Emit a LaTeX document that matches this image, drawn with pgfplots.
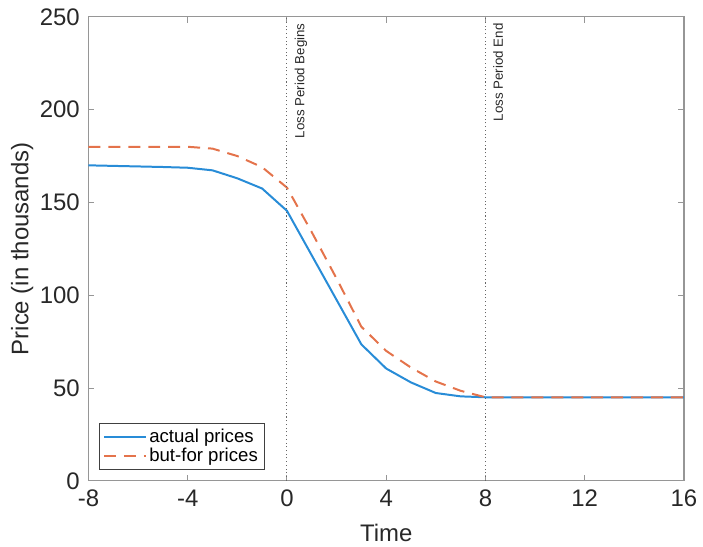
\documentclass[border={5pt 0pt 1pt 3pt}]{standalone}
\usepackage{pgfplots}
\pgfplotsset{compat=1.18}
\usepackage{fontspec}
\setmainfont{Liberation Sans}
\definecolor{mblue}{RGB}{40,140,215}
\definecolor{morange}{RGB}{228,115,75}
\definecolor{axgray}{RGB}{150,150,150}
\definecolor{txtgray}{RGB}{40,40,40}

\begin{document}
\begin{tikzpicture}
\begin{axis}[
    width=448pt, height=349pt, scale only axis,
    xmin=-8, xmax=16, ymin=0, ymax=250,
    xtick={-8,-4,0,4,8,12,16},
    ytick={0,50,100,150,200,250},
    tick align=inside,
    major tick length=4.5pt,
    axis line style={axgray, line width=0.9pt},
    every tick/.style={axgray, line width=0.7pt},
    tick label style={font=\fontsize{18}{20}\selectfont, text=txtgray},
    xticklabel style={yshift=-3.5pt},
    yticklabel style={xshift=-3pt},
    /pgf/number format/assume math mode=true,
    xlabel={Time}, ylabel={Price (in thousands)},
    label style={font=\fontsize{18}{20}\selectfont, text=txtgray},
    xlabel style={yshift=-6pt},
    ylabel style={yshift=-2pt},
    legend cell align=left,
    legend style={font=\fontsize{14}{16}\selectfont, draw=black!75, line width=0.7pt,
      inner xsep=3pt, inner ysep=2pt,
      at={(0.017,0.024)}, anchor=south west, row sep=-1pt},
    legend image code/.code={\draw[#1] (0cm,0cm) -- (1.1cm,0cm);},
]
\addplot[mblue, line width=1.5pt] coordinates {
    (-8,170) (-7,169.7) (-6,169.4) (-5,169.1) (-4,168.7) (-3,167.3) (-2,163) (-1,157.5)
    (0,145.5) (1,121.5) (2,97.5) (3,73.5) (4,60.5) (5,53) (6,47.3) (7,45.5)
    (8,45) (9,45) (10,45) (11,45) (12,45) (13,45) (14,45) (15,45) (16,45)
};
\addlegendentry{actual prices}
\addplot[morange, line width=1.5pt, dash pattern=on 9pt off 6pt] coordinates {
    (-8,180) (-7,180) (-6,180) (-5,180) (-4,180) (-3,179) (-2,175) (-1,169)
    (0,158) (1,134) (2,109) (3,83) (4,70) (5,61) (6,53.5) (7,48.5)
    (8,45) (9,45) (10,45) (11,45) (12,45) (13,45) (14,45) (15,45) (16,45)
};
\addlegendentry{but-for prices}
\draw[black!60, dotted, line width=0.8pt] (axis cs:0,0) -- (axis cs:0,250);
\draw[black!60, dotted, line width=0.8pt] (axis cs:8,0) -- (axis cs:8,250);
\node[rotate=90, anchor=north east, font=\fontsize{10}{12}\selectfont, text=txtgray, inner sep=2pt]
  at (axis cs:0.2,248) {Loss Period Begins};
\node[rotate=90, anchor=north east, font=\fontsize{10}{12}\selectfont, text=txtgray, inner sep=2pt]
  at (axis cs:8.2,248) {Loss Period End};
\end{axis}
\end{tikzpicture}
\end{document}
